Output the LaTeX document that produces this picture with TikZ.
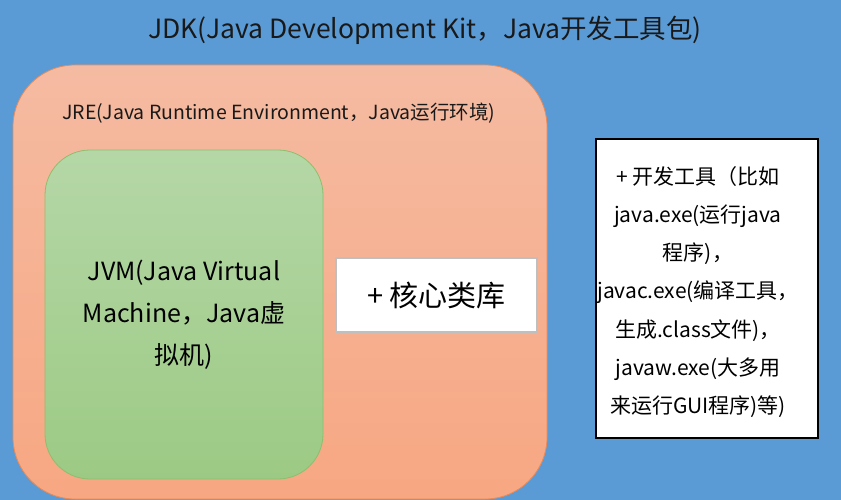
\documentclass[tikz,border=0pt]{standalone}
\usepackage{fontspec}
\setmainfont{Noto Sans CJK SC}
\usetikzlibrary{positioning}

\definecolor{jdkblue}{HTML}{5B9BD5}
\definecolor{jretop}{HTML}{F5BBA2}
\definecolor{jrebot}{HTML}{F7A782}
\definecolor{jreline}{HTML}{EB8A56}
\definecolor{jvmtop}{HTML}{B5D7A7}
\definecolor{jvmbot}{HTML}{9CCA84}
\definecolor{jvmline}{HTML}{8DBE6D}

\begin{document}
\begin{tikzpicture}[x=1pt,y=-1pt,
  jrebox/.style={rectangle,draw=jreline,line width=0.8pt,rounded corners=62pt,
    top color=jretop,bottom color=jrebot,minimum width=534pt,minimum height=434pt},
  jvmbox/.style={rectangle,draw=jvmline,line width=0.8pt,rounded corners=45pt,
    top color=jvmtop,bottom color=jvmbot,minimum width=278pt,minimum height=329pt,
    align=center,font=\fontsize{25}{42}\selectfont},
  corebox/.style={rectangle,draw=black!25,line width=1.2pt,fill=white,
    minimum width=201pt,minimum height=74pt,font=\fontsize{29}{34}\selectfont},
  toolbox/.style={rectangle,draw=black,line width=1.6pt,fill=white,
    minimum width=222pt,minimum height=299pt}]
\fill[jdkblue] (0,0) rectangle (841,500);
\useasboundingbox (0,0) rectangle (841,500);
\node[text=black!90,font=\fontsize{26.5}{30}\selectfont] (jdk) at (425,30)
  {JDK(Java Development Kit，Java开发工具包)};
\node[jrebox] (jre) at (280,282) {};
\node[anchor=west,inner sep=0pt,text=black!90,font=\fontsize{19.5}{22}\selectfont] (jrelabel) at (62,113)
  {JRE(Java Runtime Environment，Java运行环境)};
\node[jvmbox] (jvm) at (184,314.5) {JVM(Java Virtual\\Machine，Java虚\\拟机)};
\node[corebox] (core) at (436.5,295) {+ 核心类库};
\node[toolbox] (tools) at (707,288.5) {};
\node[align=center,font=\fontsize{21}{38.3}\selectfont] (toolstext) at (698,292)
  {+ 开发工具（比如\\java.exe(运行java\\程序)，\\javac.exe(编译工具，\\生成.class文件)，\\javaw.exe(大多用\\来运行GUI程序)等)};
\end{tikzpicture}
\end{document}
